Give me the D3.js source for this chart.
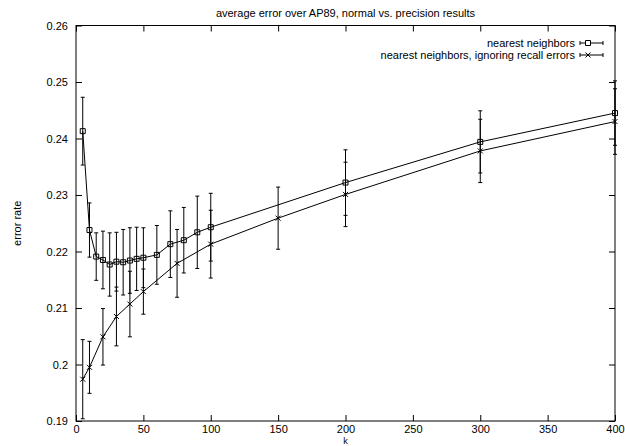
<!DOCTYPE html>
<html>
<head>
<meta charset="utf-8">
<script src="https://cdn.jsdelivr.net/npm/d3@7"></script>
<style>
  body { margin: 0; background: #fff; }
  text { font-family: "Liberation Sans", Arial, sans-serif; font-size: 11px; fill: #000; }
</style>
</head>
<body>
<div id="chart"></div>
<script>
// series 1: nearest neighbors
const kSq = [5, 10, 15, 20, 25, 30, 35, 40, 45, 50, 60, 70, 80, 90, 100, 200, 300, 400]
const errSq = [0.2413, 0.2238, 0.2191, 0.2185, 0.2177, 0.2182, 0.2181, 0.2184, 0.2187, 0.2189, 0.2194, 0.2213, 0.2220, 0.2234, 0.2243, 0.2322, 0.2394, 0.2445]
const devSq = [0.0060, 0.0048, 0.0042, 0.0051, 0.0056, 0.0052, 0.0058, 0.0058, 0.0056, 0.0053, 0.0052, 0.0059, 0.0058, 0.0064, 0.0060, 0.0058, 0.0055, 0.0057]

// series 2: nearest neighbors, ignoring recall errors
const kX = [5, 10, 20, 30, 40, 50, 75, 100, 150, 200, 300, 400]
const errX = [0.1974, 0.1995, 0.2049, 0.2085, 0.2107, 0.2129, 0.2179, 0.2213, 0.2259, 0.2301, 0.2378, 0.2430]
const devX = [0.0070, 0.0046, 0.0050, 0.0052, 0.0058, 0.0040, 0.0060, 0.0060, 0.0055, 0.0057, 0.0056, 0.0058]

const xTicks = [0, 50, 100, 150, 200, 250, 300, 350, 400]
const yTicks = [0.19, 0.20, 0.21, 0.22, 0.23, 0.24, 0.25, 0.26]
const yLabels = ['0.19', '0.2', '0.21', '0.22', '0.23', '0.24', '0.25', '0.26']

const titleText = 'average error over AP89, normal vs. precision results'
const seriesNames = ['nearest neighbors', 'nearest neighbors, ignoring recall errors']

const svgWidth = 625
const svgHeight = 446
const margin = { left: 76, right: 10, top: 25.5, bottom: 25 }
const width = svgWidth - margin.left - margin.right
const height = svgHeight - margin.top - margin.bottom

const svg = d3.select('#chart')
    .append('svg')
    .attr('width', svgWidth)
    .attr('height', svgHeight)

const g = svg.append('g')
    .attr('transform', `translate(${margin.left},${margin.top})`)

////////////// scales //////////////
const xScale = d3.scaleLinear().domain([0, 400]).range([0, width])
const yScale = d3.scaleLinear().domain([0.19, 0.26]).range([height, 0])

////////////// axes ////////////////
const tick = 6
g.append('g')
    .attr('transform', `translate(0,${height})`)
    .call(d3.axisBottom(xScale).tickValues(xTicks).tickSizeInner(-tick).tickSizeOuter(0).tickPadding(4.5))
g.append('g')
    .call(d3.axisTop(xScale).tickValues(xTicks).tickSizeInner(-tick).tickSizeOuter(0).tickFormat(''))
g.append('g')
    .call(d3.axisLeft(yScale).tickValues(yTicks).tickSizeInner(-tick).tickSizeOuter(0).tickPadding(8)
        .tickFormat((d, i) => yLabels[i]))
g.append('g')
    .attr('transform', `translate(${width},0)`)
    .call(d3.axisRight(yScale).tickValues(yTicks).tickSizeInner(-tick).tickSizeOuter(0).tickFormat(''))

g.selectAll('.domain').remove()
g.selectAll('.tick line').attr('stroke', '#000')
g.selectAll('.tick text').style('font-size', '11px').attr('fill', '#000')

g.append('rect')
    .attr('width', width)
    .attr('height', height)
    .attr('fill', 'none')
    .attr('stroke', '#000')

////////////// labels //////////////
svg.append('text')
    .attr('x', margin.left + width / 2)
    .attr('y', 17)
    .attr('text-anchor', 'middle')
    .text(titleText)

svg.append('text')
    .attr('text-anchor', 'middle')
    .attr('transform', `translate(21,${margin.top + height / 2}) rotate(-90)`)
    .text('error rate')

svg.append('text')
    .attr('x', margin.left + width / 2)
    .attr('y', 444)
    .attr('text-anchor', 'middle')
    .style('font-size', '9px')
    .text('k')

////////////// series //////////////
const sqData = kSq.map((k, i) => ({ k, v: errSq[i], d: devSq[i] }))
const xData = kX.map((k, i) => ({ k, v: errX[i], d: devX[i] }))

const line = d3.line().x(d => xScale(d.k)).y(d => yScale(d.v))
const cap = 2

function drawSeries(data, marker) {
    const s = g.append('g')
    s.append('path')
        .datum(data)
        .attr('d', line)
        .attr('fill', 'none')
        .attr('stroke', '#000')

    const bars = s.selectAll('.bar')
        .data(data)
        .join('g')
        .attr('transform', d => `translate(${xScale(d.k)},0)`)
    bars.append('line')
        .attr('y1', d => yScale(d.v - d.d))
        .attr('y2', d => yScale(d.v + d.d))
        .attr('stroke', '#000')
    bars.append('line')
        .attr('x1', -cap).attr('x2', cap)
        .attr('y1', d => yScale(d.v + d.d)).attr('y2', d => yScale(d.v + d.d))
        .attr('stroke', '#000')
    bars.append('line')
        .attr('x1', -cap).attr('x2', cap)
        .attr('y1', d => yScale(d.v - d.d)).attr('y2', d => yScale(d.v - d.d))
        .attr('stroke', '#000')

    s.selectAll('.pt')
        .data(data)
        .join('path')
        .attr('transform', d => `translate(${xScale(d.k)},${yScale(d.v)})`)
        .attr('d', marker)
        .attr('fill', 'none')
        .attr('stroke', '#000')
}

const squareMarker = 'M-2.5,-2.5h5v5h-5z'
const crossMarker = 'M-2.5,-2.5L2.5,2.5M-2.5,2.5L2.5,-2.5'

drawSeries(sqData, squareMarker)
drawSeries(xData, crossMarker)

////////////// legend //////////////
const markers = [squareMarker, crossMarker]
const legend = svg.append('g')
seriesNames.forEach((name, i) => {
    const y = 43 + i * 12
    legend.append('text')
        .attr('x', 575)
        .attr('y', y)
        .attr('dy', '0.35em')
        .attr('text-anchor', 'end')
        .text(name)
    legend.append('line').attr('x1', 580).attr('x2', 603).attr('y1', y).attr('y2', y).attr('stroke', '#000')
    legend.append('line').attr('x1', 580).attr('x2', 580).attr('y1', y - 2).attr('y2', y + 2).attr('stroke', '#000')
    legend.append('line').attr('x1', 603).attr('x2', 603).attr('y1', y - 2).attr('y2', y + 2).attr('stroke', '#000')
    legend.append('path')
        .attr('transform', `translate(588,${y})`)
        .attr('d', markers[i])
        .attr('fill', '#fff')
        .attr('stroke', '#000')
})
</script>
</body>
</html>
